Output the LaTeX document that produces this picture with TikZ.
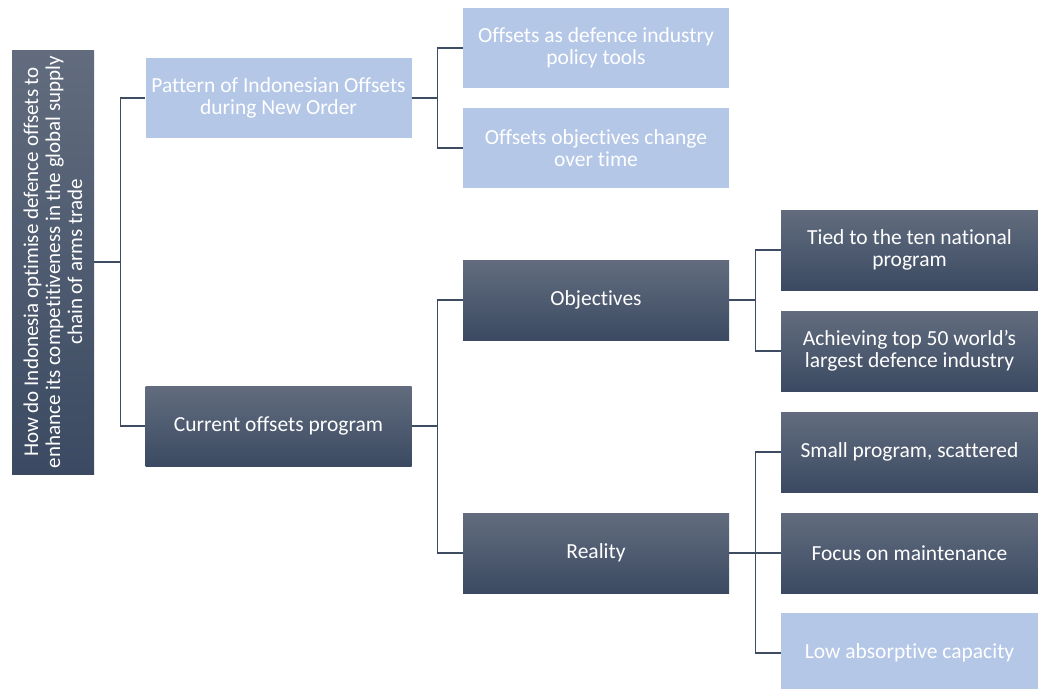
\documentclass[tikz,border=0pt]{standalone}
\usepackage{fontspec}
\setmainfont{Carlito}[Ligatures=NoCommon]
\usepackage{tikz}
\usetikzlibrary{positioning}
\definecolor{ofdark}{RGB}{59,74,98}
\definecolor{oftop}{RGB}{98,108,126}
\definecolor{oflight}{RGB}{180,199,231}
\definecolor{ofline}{RGB}{62,76,98}
\tikzset{
  darkbox/.style={shade, top color=oftop, bottom color=ofdark, draw=none, text=white,
    align=center, inner sep=0pt, font=\fontsize{21.5}{22}\selectfont},
  lightbox/.style={fill=oflight, draw=none, text=white,
    align=center, inner sep=0pt, font=\fontsize{21.5}{22}\selectfont},
  midbox/.style={minimum width=266, minimum height=80},
  endbox/.style={minimum width=257, minimum height=80},
  link/.style={draw=ofline, line width=1.3pt}
}
\begin{document}
\begin{tikzpicture}[x=1pt, y=-1pt]
\useasboundingbox (0,0) rectangle (1038,688);

% Root question
\node[darkbox, minimum width=82, minimum height=424] (root) at (53,262) {};
\node[rotate=90, text=white, align=center, font=\fontsize{21}{22}\selectfont] (rootText) at (root.center)
  {How do Indonesia optimise defence offsets to\\enhance its competitiveness in the global supply\\chain of arms trade};

% Second level
\node[lightbox, midbox] (pat) at (278.5,98) {Pattern of Indonesian Offsets\\during New Order};
\node[darkbox, midbox] (cur) at (278.5,426) {Current offsets program};

% Third level
\node[lightbox, midbox] (tool) at (596,48) {Offsets as defence industry\\policy tools};
\node[lightbox, midbox] (change) at (596,148) {Offsets objectives change\\over time};
\node[darkbox, midbox] (obj) at (596,300) {Objectives};
\node[darkbox, midbox] (real) at (596,553) {Reality};

% Fourth level
\node[darkbox, endbox] (tied) at (909.5,250) {Tied to the ten national\\program};
\node[darkbox, endbox] (top) at (909.5,351) {Achieving top 50 world's\\largest defence industry};
\node[darkbox, endbox] (small) at (909.5,452) {Small program, scattered};
\node[darkbox, endbox] (focus) at (909.5,553) {Focus on maintenance};
\node[lightbox, endbox] (low) at (909.5,653) {Low absorptive capacity};

% Connectors
\draw[link] (root.east) -- ++(26,0) |- (pat.west);
\draw[link] (root.east) -- ++(26,0) |- (cur.west);
\draw[link] (pat.east) -- ++(26,0) |- (tool.west);
\draw[link] (pat.east) -- ++(26,0) |- (change.west);
\draw[link] (cur.east) -- ++(26,0) |- (obj.west);
\draw[link] (cur.east) -- ++(26,0) |- (real.west);
\draw[link] (obj.east) -- ++(26,0) |- (tied.west);
\draw[link] (obj.east) -- ++(26,0) |- (top.west);
\draw[link] (real.east) -- ++(26,0) |- (small.west);
\draw[link] (real.east) -- ++(26,0) |- (focus.west);
\draw[link] (real.east) -- ++(26,0) |- (low.west);
\end{tikzpicture}
\end{document}
